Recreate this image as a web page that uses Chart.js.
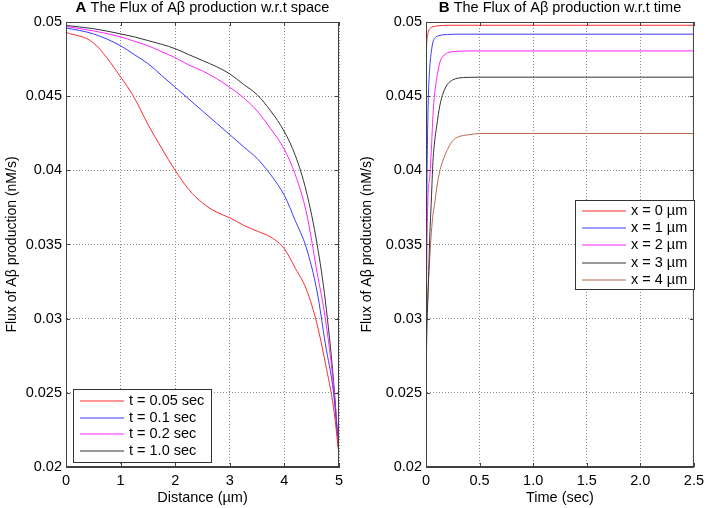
<!DOCTYPE html>
<html>
<head>
<meta charset="utf-8">
<script src="https://cdn.jsdelivr.net/npm/chart.js@4.4.0/dist/chart.umd.min.js"></script>
<style>
  html, body { margin: 0; padding: 0; background: #fff; }
  .panel { position: absolute; top: 0; }
</style>
</head>
<body>
<div class="panel" style="left:0"><canvas id="chartA" width="355" height="508"></canvas></div>
<div class="panel" style="left:355px"><canvas id="chartB" width="354" height="508"></canvas></div>
<script>
// ---- Panel A: flux vs distance ----
const distance = [0, 0.5, 1, 1.25, 1.5, 1.75, 2, 2.25, 2.5, 2.75, 3, 3.25, 3.5, 3.75, 4, 4.2, 4.4, 4.6, 4.75, 4.9, 5];
const fluxT005 = [0.0493, 0.0486, 0.0463, 0.0449, 0.0431, 0.0415, 0.0400, 0.0387, 0.0378, 0.0372, 0.0368, 0.0363, 0.0359, 0.0355, 0.0347, 0.0334, 0.0320, 0.0296, 0.0270, 0.0240, 0.0208];
const fluxT01  = [0.0496, 0.0492, 0.0484, 0.0478, 0.0472, 0.0464, 0.0456, 0.0448, 0.0440, 0.0432, 0.0424, 0.0416, 0.0408, 0.0397, 0.0383, 0.0366, 0.0348, 0.0318, 0.0283, 0.0250, 0.0209];
const fluxT02  = [0.0497, 0.0494, 0.0490, 0.0487, 0.0484, 0.0480, 0.0476, 0.0471, 0.0467, 0.0462, 0.0456, 0.0449, 0.0440, 0.0428, 0.0414, 0.0397, 0.0372, 0.0331, 0.0300, 0.0255, 0.0208];
const fluxT10  = [0.04977, 0.04955, 0.0492, 0.0490, 0.04875, 0.0485, 0.0482, 0.0478, 0.0474, 0.0470, 0.0465, 0.0458, 0.0451, 0.0440, 0.0426, 0.0410, 0.0386, 0.0350, 0.0312, 0.0258, 0.0208];
const labelsA = ['t = 0.05 sec', 't = 0.1 sec', 't = 0.2 sec', 't = 1.0 sec'];

// ---- Panel B: flux vs time ----
const time = [0, 0.005, 0.01, 0.02, 0.035, 0.05, 0.065, 0.08, 0.1, 0.13, 0.16, 0.2, 0.25, 0.3, 0.4, 0.5, 1, 1.5, 2, 2.5];
const fluxX0 = [0.0470, 0.0483, 0.0489, 0.0493, 0.04955, 0.04963, 0.04968, 0.0497, 0.04973, 0.04975, 0.04977, 0.04978, 0.04978, 0.04978, 0.04978, 0.04978, 0.04978, 0.04978, 0.04978, 0.04978];
const fluxX1 = [0.0280, 0.0360, 0.0400, 0.0444, 0.0469, 0.0480, 0.04865, 0.0489, 0.04903, 0.0491, 0.04914, 0.04916, 0.04917, 0.04918, 0.04918, 0.04918, 0.04918, 0.04918, 0.04918, 0.04918];
const fluxX2 = [0.0270, 0.0320, 0.0355, 0.0385, 0.0395, 0.0414, 0.0437, 0.0451, 0.0462, 0.0473, 0.0477, 0.04792, 0.0480, 0.04803, 0.04805, 0.04805, 0.04805, 0.04805, 0.04805, 0.04805];
const fluxX3 = [0.0260, 0.0280, 0.0298, 0.0318, 0.0355, 0.0380, 0.0406, 0.0419, 0.0430, 0.0444, 0.0452, 0.0458, 0.0461, 0.04622, 0.04627, 0.04628, 0.04628, 0.04628, 0.04628, 0.04628];
const fluxX4 = [0.0246, 0.0295, 0.0305, 0.0321, 0.0341, 0.0358, 0.0370, 0.0377, 0.0388, 0.0400, 0.0407, 0.0414, 0.0420, 0.04225, 0.0424, 0.04248, 0.04248, 0.04248, 0.04248, 0.04248];
const labelsB = ['x = 0 \u00b5m', 'x = 1 \u00b5m', 'x = 2 \u00b5m', 'x = 3 \u00b5m', 'x = 4 \u00b5m'];

const yTicks = [0.02, 0.025, 0.03, 0.035, 0.04, 0.045, 0.05];
const FONT = '"Liberation Sans", Arial, sans-serif';
const colors = ['#ff2a2a', '#3a3aff', '#ff22ff', '#333333', '#b86a48'];

function toPoints(xs, ys) {
  return xs.map((x, i) => ({ x: x, y: ys[i] }));
}

// box round the plot + inward tick marks (matlab style)
const boxPlugin = {
  id: 'box',
  afterDraw(chart) {
    const { ctx, chartArea: a, scales } = chart;
    ctx.save();
    ctx.strokeStyle = '#404040';
    ctx.lineWidth = 1;
    ctx.strokeRect(a.left + 0.5, a.top + 0.5, a.right - a.left - 1, a.bottom - a.top - 1);
    ctx.beginPath();
    scales.x.ticks.forEach(t => {
      const px = Math.round(scales.x.getPixelForValue(t.value)) + 0.5;
      ctx.moveTo(px, a.bottom); ctx.lineTo(px, a.bottom - 4);
      ctx.moveTo(px, a.top); ctx.lineTo(px, a.top + 4);
    });
    scales.y.ticks.forEach(t => {
      const py = Math.round(scales.y.getPixelForValue(t.value)) + 0.5;
      ctx.moveTo(a.left, py); ctx.lineTo(a.left + 4, py);
      ctx.moveTo(a.right, py); ctx.lineTo(a.right - 4, py);
    });
    ctx.stroke();
    ctx.restore();
  }
};

// title with bold panel letter
const titlePlugin = {
  id: 'panelTitle',
  afterDraw(chart, args, opts) {
    const { ctx, chartArea: a } = chart;
    ctx.save();
    ctx.textBaseline = 'middle';
    ctx.fillStyle = '#000';
    ctx.font = 'bold 15px ' + FONT;
    const wL = ctx.measureText(opts.letter + ' ').width;
    ctx.font = '14.5px ' + FONT;
    const wT = ctx.measureText(opts.text).width;
    let x = (a.left + a.right) / 2 - (wL + wT) / 2;
    ctx.font = 'bold 15px ' + FONT;
    ctx.fillText(opts.letter, x, 8);
    ctx.font = '14.5px ' + FONT;
    ctx.fillText(opts.text, x + wL, 8);
    ctx.restore();
  }
};

// boxed legend inside the plot area
const boxLegend = {
  id: 'boxLegend',
  afterDraw(chart, args, opts) {
    const { ctx } = chart;
    const b = opts.box;
    ctx.save();
    ctx.fillStyle = '#fff';
    ctx.fillRect(b.x, b.y, b.w, b.h);
    ctx.strokeStyle = '#333';
    ctx.lineWidth = 1;
    ctx.strokeRect(b.x + 0.5, b.y + 0.5, b.w, b.h);
    ctx.font = '14.5px ' + FONT;
    ctx.textBaseline = 'middle';
    chart.data.datasets.forEach((ds, i) => {
      const y = Math.round(b.y + opts.first + i * opts.step);
      ctx.strokeStyle = colors[i];
      ctx.lineWidth = 1;
      ctx.beginPath();
      ctx.moveTo(b.x + 7, y);
      ctx.lineTo(b.x + 51, y);
      ctx.stroke();
      ctx.fillStyle = '#000';
      ctx.fillText(ds.label, b.x + 56, y);
    });
    ctx.restore();
  }
};

function makeChart(id, xs, series, labels, xMax, xStep, xTitle, padRight, yWidth, title, legendOpts) {
  const datasets = series.map((ys, i) => ({
    label: labels[i],
    data: toPoints(xs, ys),
    borderColor: colors[i],
    borderWidth: 1,
    pointRadius: 0,
    cubicInterpolationMode: 'monotone',
    fill: false
  }));
  return new Chart(document.getElementById(id), {
    type: 'line',
    data: { datasets: datasets },
    options: {
      responsive: false,
      animation: false,
      devicePixelRatio: 1,
      layout: { padding: { top: 22, right: padRight, left: 0, bottom: 0 } },
      plugins: {
        legend: { display: false },
        tooltip: { enabled: false },
        panelTitle: title,
        boxLegend: legendOpts
      },
      scales: {
        x: {
          type: 'linear',
          min: 0, max: xMax,
          ticks: { stepSize: xStep, padding: 5, color: '#000', font: { family: FONT, size: 14.5 }, maxRotation: 0 },
          grid: { color: '#8a8a8a', drawTicks: false },
          border: { color: '#404040', dash: [1, 2] },
          title: { display: true, text: xTitle, color: '#000', font: { family: FONT, size: 14.5 }, padding: { top: 0, bottom: 1 } },
          afterFit(scale) { scale.height = 41; }
        },
        y: {
          type: 'linear',
          min: 0.02, max: 0.05,
          afterBuildTicks(scale) { scale.ticks = yTicks.map(v => ({ value: v })); },
          ticks: {
            padding: 4, color: '#000', font: { family: FONT, size: 14.5 },
            callback: v => String(Number(v.toFixed(3)))
          },
          grid: { color: '#8a8a8a', drawTicks: false },
          border: { color: '#404040', dash: [1, 2] },
          title: { display: true, text: 'Flux of A\u03b2 production (nM/s)', color: '#000', font: { family: FONT, size: 14 }, padding: { top: 4, bottom: 0 } },
          afterFit(scale) { scale.width = yWidth; }
        }
      }
    },
    plugins: [boxPlugin, titlePlugin, boxLegend]
  });
}

makeChart('chartA', distance, [fluxT005, fluxT01, fluxT02, fluxT10], labelsA, 5, 1,
  'Distance (\u00b5m)', 16, 66,
  { letter: 'A', text: 'The Flux of A\u03b2 production w.r.t space' },
  { box: { x: 73, y: 389, w: 138, h: 73 }, first: 12, step: 16.7 });

makeChart('chartB', time, [fluxX0, fluxX1, fluxX2, fluxX3, fluxX4], labelsB, 2.5, 0.5,
  'Time (sec)', 10, 71,
  { letter: 'B', text: 'The Flux of A\u03b2 production w.r.t time' },
  { box: { x: 220, y: 200, w: 119, h: 89 }, first: 11, step: 17.2 });
</script>
</body>
</html>
